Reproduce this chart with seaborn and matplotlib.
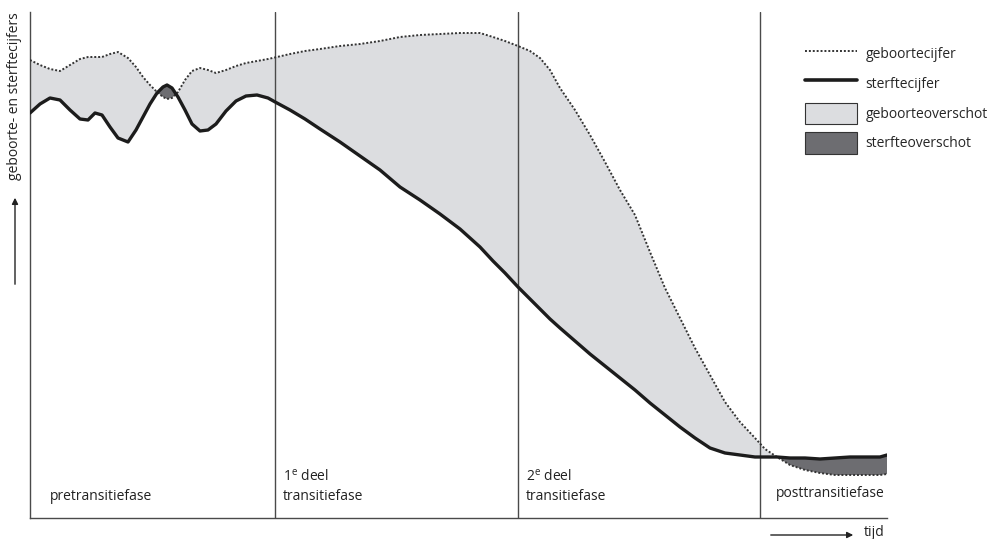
import numpy as np
import pandas as pd
import seaborn as sns
import matplotlib.pyplot as plt
from matplotlib.lines import Line2D
from matplotlib.patches import Patch

# time axis (arbitrary units) and the two rates
tijd = [0, 10, 20, 30, 40, 50, 58, 65, 72, 80,
        88, 98, 106, 113, 120, 127, 133, 137, 142, 148,
        155, 162, 170, 178, 186, 196, 206, 216, 227, 238,
        247, 260, 275, 290, 310, 330, 350, 370, 390, 410,
        430, 450, 463, 475, 488, 500, 510, 520, 530, 545,
        560, 575, 590, 605, 620, 635, 650, 665, 680, 695,
        710, 725, 735, 747, 760, 775, 790, 805, 820, 835,
        850, 857]

geboortecijfer = [458, 453, 449, 447, 453, 459, 461, 461, 461, 464,
                  466, 460, 451, 441, 433, 426, 421, 419, 420, 426,
                  438, 447, 450, 448, 445, 448, 452, 455, 457, 459,
                  461, 464, 467, 469, 472, 474, 477, 481, 483, 484,
                  485, 485, 481, 477, 472, 467, 460, 448, 430, 408,
                  383, 356, 328, 303, 266, 230, 200, 170, 143, 116,
                  96, 80, 69, 61, 53, 48, 45, 43, 43, 43,
                  43, 44]

sterftecijfer = [405, 414, 420, 418, 408, 399, 398, 405, 403, 391,
                 380, 376, 388, 401, 414, 425, 431, 433, 430, 421,
                 408, 394, 387, 388, 394, 407, 417, 422, 423, 420,
                 415, 408, 399, 389, 376, 362, 348, 331, 318, 304,
                 289, 271, 257, 245, 231, 219, 209, 199, 190, 177,
                 164, 152, 140, 128, 115, 103, 91, 80, 70, 65,
                 63, 61, 61, 61, 60, 60, 59, 60, 61, 61,
                 61, 63]

# boundaries between the phases
fase_grenzen = [245, 488, 730]

df = pd.DataFrame({'tijd': tijd, 'geboorte': geboortecijfer, 'sterfte': sterftecijfer})

sns.set_theme(style='white')
plt.rcParams['font.family'] = ['Open Sans', 'DejaVu Sans']
plt.rcParams['mathtext.fontset'] = 'custom'
plt.rcParams['mathtext.rm'] = 'Open Sans'

LICHT = '#dcdde0'
DONKER = '#6d6d71'
LIJN = '#1c1c1c'

fig = plt.figure(figsize=(9.98, 5.39), dpi=100)
ax = fig.add_axes([30 / 998, 21 / 539, 857 / 998, 506 / 539])

t = df['tijd'].to_numpy()
b = df['geboorte'].to_numpy()
s = df['sterfte'].to_numpy()

# surplus areas
ax.fill_between(t, s, b, where=b >= s, interpolate=True, color=LICHT, lw=0, zorder=1)
ax.fill_between(t, s, b, where=b < s, interpolate=True, color=DONKER, lw=0, zorder=1)

for g in fase_grenzen:
    ax.axvline(g, color='#4a4a4a', lw=1, zorder=2)

sns.lineplot(data=df, x='tijd', y='geboorte', ax=ax, color='#333333', lw=1.4,
             linestyle=(0, (1, 1)), zorder=3)
sns.lineplot(data=df, x='tijd', y='sterfte', ax=ax, color=LIJN, lw=2.4,
             solid_capstyle='round', solid_joinstyle='round', zorder=4)

ax.set_xlim(0, 857)
ax.set_ylim(0, 506)
ax.set_xticks([])
ax.set_yticks([])
ax.set_xlabel('')
ax.set_ylabel('')
sns.despine(ax=ax)
for side in ['left', 'bottom']:
    ax.spines[side].set_color('#4a4a4a')
    ax.spines[side].set_linewidth(1)

# phase labels
fs = 10
ax.text(20, 18, 'pretransitiefase', fontsize=fs, color='#222', va='baseline')
ax.text(fase_grenzen[0] + 8, 37, r'1$^{\mathrm{e}}$ deel', fontsize=fs, color='#222', va='baseline')
ax.text(fase_grenzen[0] + 8, 18, 'transitiefase', fontsize=fs, color='#222', va='baseline')
ax.text(fase_grenzen[1] + 8, 37, r'2$^{\mathrm{e}}$ deel', fontsize=fs, color='#222', va='baseline')
ax.text(fase_grenzen[1] + 8, 18, 'transitiefase', fontsize=fs, color='#222', va='baseline')
ax.text(855, 21, 'posttransitiefase', fontsize=fs, color='#222', va='baseline', ha='right')

# axis labels with arrows
fig.text(15 / 998, 1 - 12 / 539, 'geboorte- en sterftecijfers', rotation=90,
         ha='center', va='top', fontsize=fs, color='#222')
ax.annotate('', xy=(15 / 998, 1 - 195 / 539), xytext=(15 / 998, 1 - 287 / 539),
            xycoords='figure fraction', textcoords='figure fraction',
            arrowprops=dict(arrowstyle='-|>', color='#222', lw=1, mutation_scale=9))
fig.text(864 / 998, 1 - 532 / 539, 'tijd', ha='left', va='center', fontsize=fs, color='#222')
ax.annotate('', xy=(856 / 998, 1 - 535 / 539), xytext=(768 / 998, 1 - 535 / 539),
            xycoords='figure fraction', textcoords='figure fraction',
            arrowprops=dict(arrowstyle='-|>', color='#222', lw=1, mutation_scale=9))

# legend
handles = [
    Line2D([], [], color='#333333', lw=1.4, linestyle=(0, (1, 1))),
    Line2D([], [], color=LIJN, lw=2.6),
    Patch(facecolor=LICHT, edgecolor='#333', lw=0.8),
    Patch(facecolor=DONKER, edgecolor='#333', lw=0.8),
]
labels = ['geboortecijfer', 'sterftecijfer', 'geboorteoverschot', 'sterfteoverschot']
ax.legend(handles, labels, loc='upper left', bbox_to_anchor=(805 / 998, 1 - 43 / 539),
          bbox_transform=fig.transFigure, frameon=False, fontsize=fs,
          handlelength=3.75, handleheight=1.98, labelspacing=0.61,
          handletextpad=0.6, borderpad=0, borderaxespad=0)

fig.savefig('out.png', dpi=100)
